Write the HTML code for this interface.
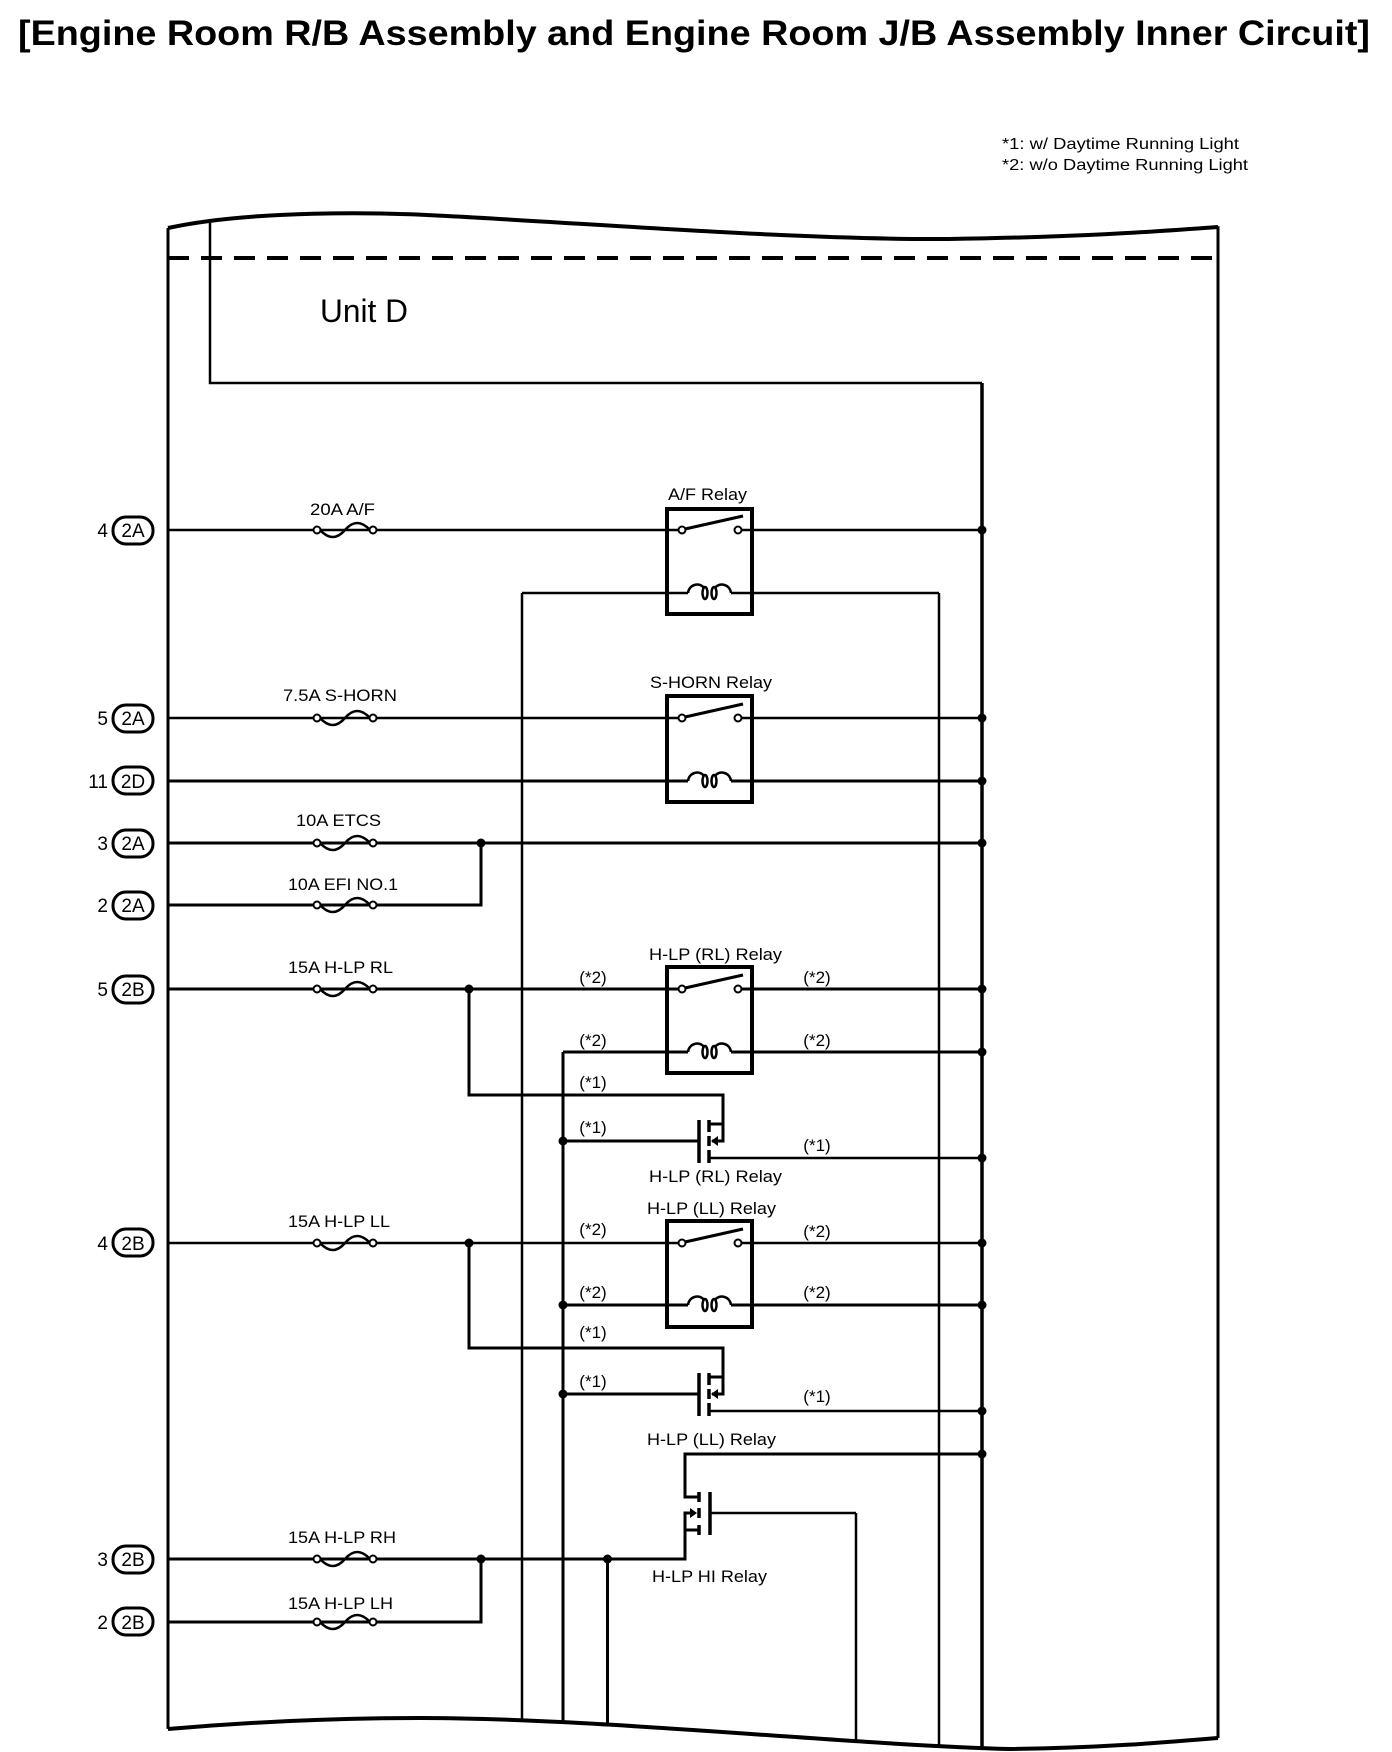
<!DOCTYPE html>
<html><head><meta charset="utf-8"><style>html,body{margin:0;padding:0;background:#fff}svg{display:block}text{font-family:"Liberation Sans",Arial,sans-serif;fill:#000}</style></head>
<body>
<svg width="1392" height="1752" viewBox="0 0 1392 1752" xmlns="http://www.w3.org/2000/svg">
<g fill="none" stroke="#000" stroke-width="3">
<line x1="982" y1="383" x2="982" y2="1752" stroke-width="3.5"/>
<line x1="522" y1="593" x2="522" y2="1752" stroke-width="2.5"/>
<line x1="939" y1="593" x2="939" y2="1752" stroke-width="2.5"/>
<line x1="563" y1="1052" x2="563" y2="1752"/>
<line x1="607.5" y1="1559" x2="607.5" y2="1752"/>
<line x1="856" y1="1513" x2="856" y2="1752" stroke-width="2.5"/>
<polyline points="210,215 210,383 982,383" stroke-width="2.5"/>
<line x1="167" y1="530" x2="682" y2="530" stroke-width="2.5"/>
<line x1="738" y1="530" x2="982" y2="530" stroke-width="2.5"/>
<line x1="522" y1="593" x2="688" y2="593" stroke-width="2.5"/>
<line x1="731" y1="593" x2="939" y2="593" stroke-width="2.5"/>
<line x1="167" y1="718" x2="682" y2="718" stroke-width="2.5"/>
<line x1="738" y1="718" x2="982" y2="718" stroke-width="2.5"/>
<line x1="167" y1="781" x2="688" y2="781"/>
<line x1="731" y1="781" x2="982" y2="781"/>
<line x1="167" y1="843" x2="982" y2="843"/>
<polyline points="167,905 481,905 481,843"/>
<line x1="167" y1="989" x2="682" y2="989"/>
<line x1="738" y1="989" x2="982" y2="989"/>
<line x1="563" y1="1052" x2="688" y2="1052"/>
<line x1="731" y1="1052" x2="982" y2="1052"/>
<polyline points="469,989 469,1095 723,1095 723,1141 712,1141"/>
<line x1="563" y1="1141" x2="699" y2="1141"/>
<line x1="709" y1="1124" x2="723" y2="1124"/>
<line x1="709" y1="1158" x2="982" y2="1158" stroke-width="2.5"/>
<line x1="699" y1="1120" x2="699" y2="1163" stroke-width="3.5"/>
<line x1="709" y1="1120" x2="709" y2="1132" stroke-width="3.5"/>
<line x1="709" y1="1136" x2="709" y2="1146" stroke-width="3.5"/>
<line x1="709" y1="1150" x2="709" y2="1163" stroke-width="3.5"/>
<line x1="167" y1="1243" x2="682" y2="1243" stroke-width="2.5"/>
<line x1="738" y1="1243" x2="982" y2="1243" stroke-width="2.5"/>
<line x1="563" y1="1305" x2="688" y2="1305"/>
<line x1="731" y1="1305" x2="982" y2="1305"/>
<polyline points="469,1243 469,1348 723,1348 723,1394 712,1394"/>
<line x1="563" y1="1394" x2="699" y2="1394"/>
<line x1="709" y1="1377" x2="723" y2="1377"/>
<line x1="709" y1="1411" x2="982" y2="1411" stroke-width="2.5"/>
<line x1="699" y1="1373" x2="699" y2="1416" stroke-width="3.5"/>
<line x1="709" y1="1373" x2="709" y2="1385" stroke-width="3.5"/>
<line x1="709" y1="1389" x2="709" y2="1399" stroke-width="3.5"/>
<line x1="709" y1="1403" x2="709" y2="1416" stroke-width="3.5"/>
<polyline points="982,1454 685,1454 685,1497 699,1497"/>
<polyline points="167,1559 685,1559 685,1513 694,1513"/>
<line x1="685" y1="1530" x2="699" y2="1530"/>
<line x1="710" y1="1513" x2="856" y2="1513" stroke-width="2.5"/>
<line x1="710" y1="1492" x2="710" y2="1535" stroke-width="3.5"/>
<line x1="699" y1="1492" x2="699" y2="1502" stroke-width="3.5"/>
<line x1="699" y1="1508" x2="699" y2="1518" stroke-width="3.5"/>
<line x1="699" y1="1525" x2="699" y2="1535" stroke-width="3.5"/>
<polyline points="167,1622 481,1622 481,1559"/>
<g stroke-width="2.5">
<path d="M320,530 Q333,544 345,530 Q357,516 370,530"/>
<path d="M320,718 Q333,732 345,718 Q357,704 370,718"/>
<path d="M320,843 Q333,857 345,843 Q357,829 370,843"/>
<path d="M320,905 Q333,919 345,905 Q357,891 370,905"/>
<path d="M320,989 Q333,1003 345,989 Q357,975 370,989"/>
<path d="M320,1243 Q333,1257 345,1243 Q357,1229 370,1243"/>
<path d="M320,1559 Q333,1573 345,1559 Q357,1545 370,1559"/>
<path d="M320,1622 Q333,1636 345,1622 Q357,1608 370,1622"/>
</g>
<g fill="#fff" stroke-width="2">
<circle cx="317" cy="530" r="3.5"/><circle cx="373" cy="530" r="3.5"/>
<circle cx="317" cy="718" r="3.5"/><circle cx="373" cy="718" r="3.5"/>
<circle cx="317" cy="843" r="3.5"/><circle cx="373" cy="843" r="3.5"/>
<circle cx="317" cy="905" r="3.5"/><circle cx="373" cy="905" r="3.5"/>
<circle cx="317" cy="989" r="3.5"/><circle cx="373" cy="989" r="3.5"/>
<circle cx="317" cy="1243" r="3.5"/><circle cx="373" cy="1243" r="3.5"/>
<circle cx="317" cy="1559" r="3.5"/><circle cx="373" cy="1559" r="3.5"/>
<circle cx="317" cy="1622" r="3.5"/><circle cx="373" cy="1622" r="3.5"/>
</g>
<g stroke-width="4">
<rect x="667" y="509" width="85" height="105"/>
<rect x="667" y="696" width="85" height="106"/>
<rect x="667" y="967" width="85" height="106"/>
<rect x="667" y="1221" width="85" height="106"/>
</g>
<g stroke-width="3">
<line x1="685" y1="529" x2="743" y2="516"/>
<line x1="685" y1="717" x2="743" y2="704"/>
<line x1="685" y1="988" x2="743" y2="975"/>
<line x1="685" y1="1242" x2="743" y2="1229"/>
</g>
<g fill="#fff" stroke-width="2">
<circle cx="682" cy="530" r="3.5"/><circle cx="738" cy="530" r="3.5"/>
<circle cx="682" cy="718" r="3.5"/><circle cx="738" cy="718" r="3.5"/>
<circle cx="682" cy="989" r="3.5"/><circle cx="738" cy="989" r="3.5"/>
<circle cx="682" cy="1243" r="3.5"/><circle cx="738" cy="1243" r="3.5"/>
</g>
<g stroke-width="2.5">
<path d="M688,593 C689,584 700,582 704,588 M715,588 C719,582 730,584 731,593"/><ellipse cx="705" cy="593" rx="2.5" ry="6"/><ellipse cx="714" cy="593" rx="2.5" ry="6"/>
<path d="M688,781 C689,772 700,770 704,776 M715,776 C719,770 730,772 731,781"/><ellipse cx="705" cy="781" rx="2.5" ry="6"/><ellipse cx="714" cy="781" rx="2.5" ry="6"/>
<path d="M688,1052 C689,1043 700,1041 704,1047 M715,1047 C719,1041 730,1043 731,1052"/><ellipse cx="705" cy="1052" rx="2.5" ry="6"/><ellipse cx="714" cy="1052" rx="2.5" ry="6"/>
<path d="M688,1305 C689,1296 700,1294 704,1300 M715,1300 C719,1294 730,1296 731,1305"/><ellipse cx="705" cy="1305" rx="2.5" ry="6"/><ellipse cx="714" cy="1305" rx="2.5" ry="6"/>
</g>
<g stroke-width="3">
<rect x="113" y="517" width="40" height="27" rx="13"/>
<rect x="113" y="705" width="40" height="27" rx="13"/>
<rect x="113" y="767" width="40" height="27" rx="13"/>
<rect x="113" y="830" width="40" height="27" rx="13"/>
<rect x="113" y="892" width="40" height="27" rx="13"/>
<rect x="113" y="976" width="40" height="27" rx="13"/>
<rect x="113" y="1229" width="40" height="27" rx="13"/>
<rect x="113" y="1546" width="40" height="27" rx="13"/>
<rect x="113" y="1608" width="40" height="27" rx="13"/>
</g>
<line x1="168" y1="228" x2="168" y2="1740" stroke-width="3"/>
<line x1="1218" y1="226" x2="1218" y2="1740" stroke-width="3"/>
<line x1="168" y1="258" x2="1214" y2="258" stroke-width="4" stroke-dasharray="21 12"/>
</g>
<path d="M166,0 L166,228 C250,210 380,212 447,216 C600,224 800,240 948,239 C1080,237 1150,232 1220,226 L1220,0 Z" fill="#fff"/>
<path d="M166,1752 L166,1729 C250,1722 330,1718 420,1718 C600,1718 850,1745 1010,1749 C1100,1748 1170,1742 1220,1738 L1220,1752 Z" fill="#fff"/>
<g fill="none" stroke="#000" stroke-width="4">
<path d="M168,228 C250,210 380,212 447,216 C600,224 800,240 948,239 C1080,237 1150,232 1218,227"/>
<path d="M168,1729 C250,1722 330,1718 420,1718 C600,1718 850,1745 1010,1749 C1100,1748 1170,1742 1218,1738"/>
</g>
<g fill="#000">
<circle cx="982" cy="530" r="4.5"/><circle cx="982" cy="718" r="4.5"/><circle cx="982" cy="781" r="4.5"/><circle cx="982" cy="843" r="4.5"/>
<circle cx="481" cy="843" r="4.5"/>
<circle cx="469" cy="989" r="4.5"/><circle cx="982" cy="989" r="4.5"/><circle cx="982" cy="1052" r="4.5"/>
<circle cx="563" cy="1141" r="4.5"/><circle cx="982" cy="1158" r="4.5"/>
<circle cx="469" cy="1243" r="4.5"/><circle cx="982" cy="1243" r="4.5"/><circle cx="982" cy="1305" r="4.5"/><circle cx="563" cy="1305" r="4.5"/>
<circle cx="563" cy="1394" r="4.5"/><circle cx="982" cy="1411" r="4.5"/><circle cx="982" cy="1454" r="4.5"/>
<circle cx="481" cy="1559" r="4.5"/><circle cx="607.5" cy="1559" r="4.5"/>
<path d="M711,1141 L718,1136 L718,1146 Z"/>
<path d="M711,1394 L718,1389 L718,1399 Z"/>
<path d="M697,1513 L690,1508 L690,1518 Z"/>
</g>
<text x="18" y="45" font-size="35" font-weight="bold" textLength="1352" lengthAdjust="spacingAndGlyphs">[Engine Room R/B Assembly and Engine Room J/B Assembly Inner Circuit]</text>
<text x="1002" y="149" font-size="16" textLength="237" lengthAdjust="spacingAndGlyphs">*1: w/ Daytime Running Light</text>
<text x="1002" y="170" font-size="16" textLength="246" lengthAdjust="spacingAndGlyphs">*2: w/o Daytime Running Light</text>
<text x="320" y="322" font-size="32" textLength="88" lengthAdjust="spacingAndGlyphs">Unit D</text>
<g font-size="19" text-anchor="end">
<text x="108" y="537">4</text><text x="108" y="725">5</text><text x="108" y="788">11</text><text x="108" y="850">3</text><text x="108" y="912">2</text><text x="108" y="996">5</text><text x="108" y="1250">4</text><text x="108" y="1566">3</text><text x="108" y="1629">2</text>
</g>
<g font-size="19" text-anchor="middle">
<text x="133" y="537">2A</text><text x="133" y="725">2A</text><text x="133" y="788">2D</text><text x="133" y="850">2A</text><text x="133" y="912">2A</text><text x="133" y="996">2B</text><text x="133" y="1250">2B</text><text x="133" y="1566">2B</text><text x="133" y="1629">2B</text>
</g>
<g font-size="17">
<text x="310" y="515" textLength="65" lengthAdjust="spacingAndGlyphs">20A A/F</text>
<text x="283" y="701" textLength="114" lengthAdjust="spacingAndGlyphs">7.5A S-HORN</text>
<text x="296" y="826" textLength="85" lengthAdjust="spacingAndGlyphs">10A ETCS</text>
<text x="288" y="890" textLength="110" lengthAdjust="spacingAndGlyphs">10A EFI NO.1</text>
<text x="288" y="973" textLength="105" lengthAdjust="spacingAndGlyphs">15A H-LP RL</text>
<text x="288" y="1227" textLength="102" lengthAdjust="spacingAndGlyphs">15A H-LP LL</text>
<text x="288" y="1543" textLength="108" lengthAdjust="spacingAndGlyphs">15A H-LP RH</text>
<text x="288" y="1609" textLength="105" lengthAdjust="spacingAndGlyphs">15A H-LP LH</text>
<text x="668" y="500" textLength="79" lengthAdjust="spacingAndGlyphs">A/F Relay</text>
<text x="650" y="688" textLength="122" lengthAdjust="spacingAndGlyphs">S-HORN Relay</text>
<text x="649" y="960" textLength="133" lengthAdjust="spacingAndGlyphs">H-LP (RL) Relay</text>
<text x="649" y="1182" textLength="133" lengthAdjust="spacingAndGlyphs">H-LP (RL) Relay</text>
<text x="647" y="1214" textLength="129" lengthAdjust="spacingAndGlyphs">H-LP (LL) Relay</text>
<text x="647" y="1445" textLength="129" lengthAdjust="spacingAndGlyphs">H-LP (LL) Relay</text>
<text x="652" y="1582" textLength="115" lengthAdjust="spacingAndGlyphs">H-LP HI Relay</text>
</g>
<g font-size="17" text-anchor="middle">
<text x="593" y="983">(*2)</text><text x="817" y="983">(*2)</text>
<text x="593" y="1046">(*2)</text><text x="817" y="1046">(*2)</text>
<text x="593" y="1088">(*1)</text><text x="593" y="1133">(*1)</text><text x="817" y="1151">(*1)</text>
<text x="593" y="1235">(*2)</text><text x="817" y="1237">(*2)</text>
<text x="593" y="1298">(*2)</text><text x="817" y="1298">(*2)</text>
<text x="593" y="1338">(*1)</text><text x="593" y="1387">(*1)</text><text x="817" y="1402">(*1)</text>
</g>
</svg>
</body></html>
